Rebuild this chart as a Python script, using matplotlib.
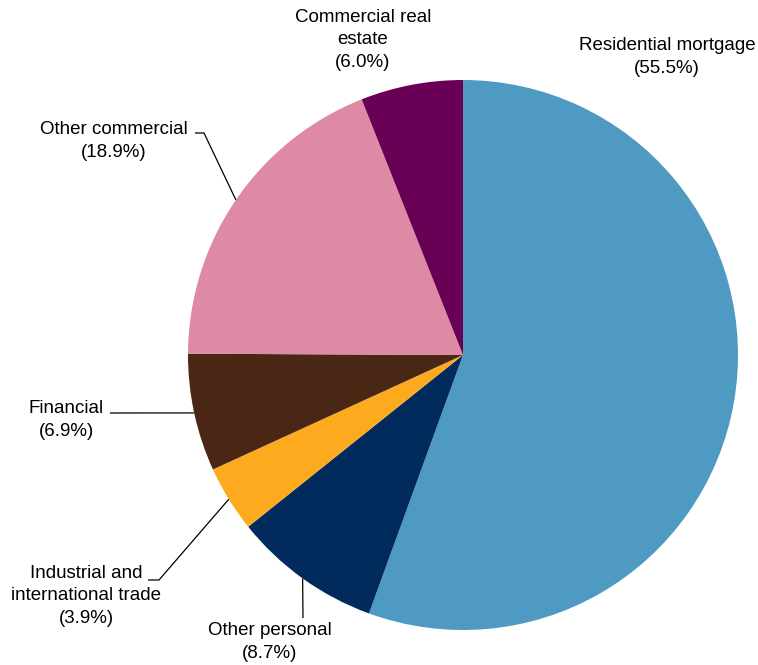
import numpy as np
import matplotlib
matplotlib.use("Agg")
import matplotlib.pyplot as plt

labels = ["Residential mortgage", "Other personal", "Industrial and\ninternational trade",
          "Financial", "Other commercial", "Commercial real\nestate"]
values = [55.5, 8.7, 3.9, 6.9, 18.9, 6.0]
colors = ["#4F9AC2", "#002B5C", "#FDAA1F", "#4A2615", "#DE8AA4", "#6A0056"]

W, H = 758, 665
fig = plt.figure(figsize=(W / 100, H / 100), dpi=100)
ax = fig.add_axes([0, 0, 1, 1])

def py(y):
    return H - y

cx, cy, r = 463, py(355), 275
wedges, _ = ax.pie(values, colors=colors, startangle=90, counterclock=False,
                   center=(cx, cy), radius=r, frame=True,
                   wedgeprops=dict(linewidth=0))
ax.set_xlim(0, W)
ax.set_ylim(0, H)
ax.set_aspect("equal")
ax.axis("off")

# label layout: (text center x, text center y in pixels, elbow points in pixels)
layout = [
    (667, 57, None),
    (270, 642, [(303, 618)]),
    (86, 596, [(159, 580), (148, 580)]),
    (66, 420, [(110, 413)]),
    (114, 141, [(204, 133), (195, 133)]),
    (363, 40, None),
]

font = dict(family=["Liberation Sans", "DejaVu Sans"], fontsize=13.5, color="black")
for w, lab, v, (tx, ty, elbow) in zip(wedges, labels, values, layout):
    ax.text(tx, py(ty), f"{lab}\n({v:.1f}%)", ha="center", va="center",
            linespacing=1.45, **font)
    if elbow:
        mid = np.deg2rad((w.theta1 + w.theta2) / 2)
        x0 = cx + r * np.cos(mid)
        y0 = cy + r * np.sin(mid)
        xs = [x0] + [e[0] for e in elbow]
        ys = [y0] + [py(e[1]) for e in elbow]
        ax.plot(xs, ys, color="black", linewidth=0.9, solid_capstyle="butt")

fig.savefig("out.png", dpi=100)
